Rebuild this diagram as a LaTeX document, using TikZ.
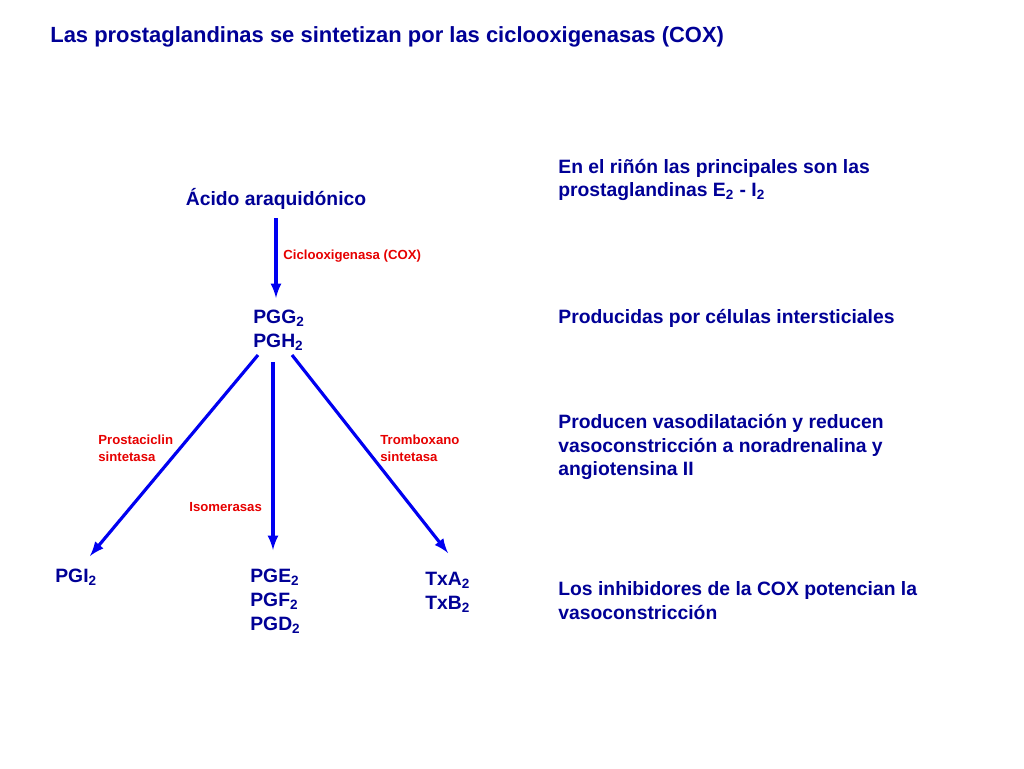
\documentclass[tikz,border=0pt]{standalone}
\usepackage{fontspec}
\setmainfont{Liberation Sans}
\usepackage{tikz}
\definecolor{textBlue}{RGB}{0, 0, 150}
\definecolor{arrowBlue}{RGB}{0, 0, 240}
\definecolor{labelRed}{RGB}{230, 0, 0}
\tikzset{
    txt/.style={anchor=west, text=textBlue, font=\bfseries\fontsize{11}{13.6}\selectfont, align=left, inner sep=0pt},
    enz/.style={anchor=west, text=labelRed, font=\bfseries\fontsize{7.5}{9.6}\selectfont, align=left, inner sep=0pt},
    flow/.style={draw=arrowBlue, line width=1.8pt, -latex}
}
\begin{document}
\begin{tikzpicture}[x=0.02cm, y=-0.02cm]
    \useasboundingbox (0, 0) rectangle (1024, 768);
    \node[txt, font=\bfseries\fontsize{12.5}{15}\selectfont] (title) at (50, 37) {Las prostaglandinas se sintetizan por las ciclooxigenasas (COX)};

    % cascade
    \node[txt, anchor=center] (aa) at (276, 199) {Ácido araquidónico};
    \node[txt] (pgg) at (253, 330) {PGG\textsubscript{2}\\PGH\textsubscript{2}};
    \node[txt] (pgi) at (55, 577) {PGI\textsubscript{2}};
    \node[txt] (pge) at (250, 601) {PGE\textsubscript{2}\\PGF\textsubscript{2}\\PGD\textsubscript{2}};
    \node[txt] (txa) at (425, 592) {TxA\textsubscript{2}\\TxB\textsubscript{2}};

    \coordinate (c0) at (276, 218);
    \coordinate (c1) at (276, 298);
    \draw[flow] (c0) -- (c1);
    \draw[flow] (258, 355) -- (90, 556);
    \draw[flow] (273, 362) -- (273, 550);
    \draw[flow] (292, 355) -- (448, 553);

    \node[enz] (cox) at (283, 256) {Ciclooxigenasa (COX)};
    \node[enz] (prost) at (98, 448) {Prostaciclin\\sintetasa};
    \node[enz] (trom) at (380, 448) {Tromboxano\\sintetasa};
    \node[enz] (iso) at (189, 507) {Isomerasas};

    % notes on the right
    \node[txt] (n1) at (558, 180) {En el riñón las principales son las\\prostaglandinas E\textsubscript{2} - I\textsubscript{2}};
    \node[txt] (n2) at (558, 318) {Producidas por células intersticiales};
    \node[txt] (n3) at (558, 447) {Producen vasodilatación y reducen\\vasoconstricción a noradrenalina y\\angiotensina II};
    \node[txt] (n4) at (558, 601) {Los inhibidores de la COX potencian la\\vasoconstricción};
\end{tikzpicture}
\end{document}
